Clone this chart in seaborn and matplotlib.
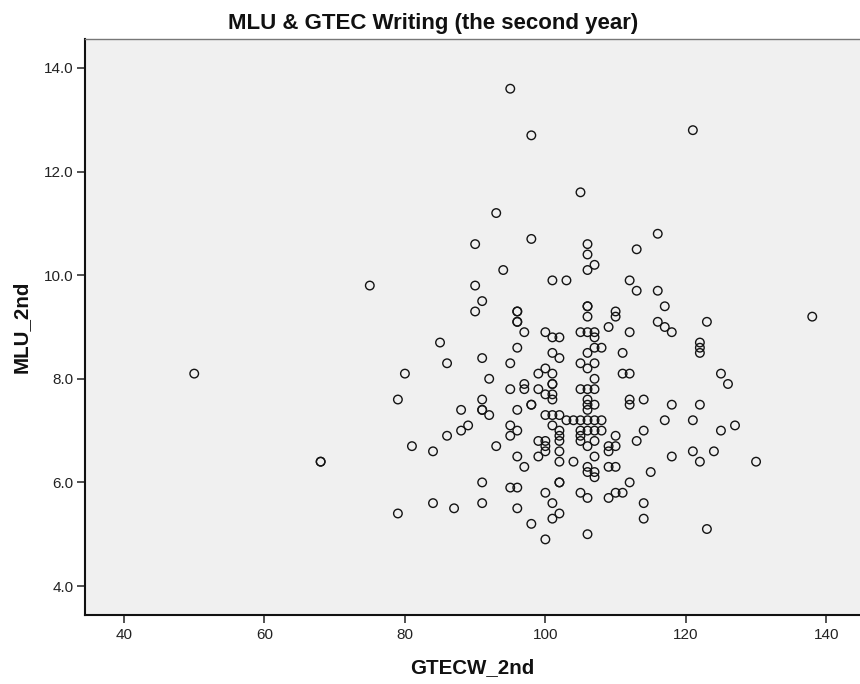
import numpy as np
import pandas as pd
import seaborn as sns
import matplotlib
matplotlib.use("Agg")
import matplotlib.pyplot as plt
from matplotlib.ticker import FormatStrFormatter

# --- data ---
gtecw_2nd = [
    50,
    68, 68,
    75,
    79, 79,
    80,
    81,
    84, 84,
    85,
    86, 86,
    87,
    88, 88,
    89,
    90, 90, 90,
    91, 91, 91, 91, 91, 91, 91,
    92, 92,
    93, 93,
    94,
    95, 95, 95, 95, 95, 95,
    96, 96, 96, 96, 96, 96, 96, 96, 96, 96,
    97, 97, 97, 97,
    98, 98, 98, 98, 98,
    99, 99, 99, 99,
    100, 100, 100, 100, 100, 100, 100, 100, 100,
    101, 101, 101, 101, 101, 101, 101, 101, 101, 101, 101, 101,
    102, 102, 102, 102, 102, 102, 102, 102, 102, 102, 102,
    103, 103,
    104, 104,
    105, 105, 105, 105, 105, 105, 105, 105, 105,
    106, 106, 106, 106, 106, 106, 106, 106, 106, 106,
    106, 106, 106, 106, 106, 106, 106, 106, 106, 106,
    107, 107, 107, 107, 107, 107, 107, 107, 107, 107, 107, 107, 107, 107,
    108, 108, 108,
    109, 109, 109, 109, 109,
    110, 110, 110, 110, 110, 110,
    111, 111, 111,
    112, 112, 112, 112, 112, 112,
    113, 113, 113,
    114, 114, 114, 114,
    115,
    116, 116, 116,
    117, 117, 117,
    118, 118, 118,
    121, 121, 121,
    122, 122, 122, 122, 122,
    123, 123,
    124,
    125, 125,
    126,
    127,
    130,
    138,
]
mlu_2nd = [
    8.1,
    6.4, 6.4,
    9.8,
    7.6, 5.4,
    8.1,
    6.7,
    6.6, 5.6,
    8.7,
    8.3, 6.9,
    5.5,
    7.4, 7.0,
    7.1,
    10.6, 9.8, 9.3,
    9.5, 8.4, 7.6, 7.4, 7.4, 6.0, 5.6,
    8.0, 7.3,
    11.2, 6.7,
    10.1,
    13.6, 8.3, 7.8, 7.1, 6.9, 5.9,
    9.3, 9.3, 9.1, 9.1, 8.6, 7.4, 7.0, 6.5, 5.9, 5.5,
    8.9, 7.9, 7.8, 6.3,
    12.7, 10.7, 7.5, 7.5, 5.2,
    8.1, 7.8, 6.8, 6.5,
    8.9, 8.2, 7.7, 7.3, 6.8, 6.7, 6.6, 5.8, 4.9,
    9.9, 8.8, 8.5, 8.1, 7.9, 7.9, 7.7, 7.6, 7.3, 7.1, 5.6, 5.3,
    8.8, 8.4, 7.3, 7.0, 6.9, 6.8, 6.6, 6.4, 6.0, 6.0, 5.4,
    9.9, 7.2,
    7.2, 6.4,
    11.6, 8.9, 8.3, 7.8, 7.2, 7.0, 6.9, 6.8, 5.8,
    10.6, 10.4, 10.1, 9.4, 9.4, 9.2, 8.9, 8.5, 8.2, 7.8,
    7.6, 7.5, 7.4, 7.2, 7.0, 6.7, 6.3, 6.2, 5.7, 5.0,
    10.2, 8.9, 8.8, 8.6, 8.3, 8.0, 7.8, 7.5, 7.2, 7.0, 6.8, 6.5, 6.2, 6.1,
    8.6, 7.2, 7.0,
    9.0, 6.7, 6.6, 6.3, 5.7,
    9.3, 9.2, 6.9, 6.7, 6.3, 5.8,
    8.5, 8.1, 5.8,
    9.9, 8.9, 8.1, 7.6, 7.5, 6.0,
    10.5, 9.7, 6.8,
    7.6, 7.0, 5.6, 5.3,
    6.2,
    10.8, 9.7, 9.1,
    9.4, 9.0, 7.2,
    8.9, 7.5, 6.5,
    12.8, 7.2, 6.6,
    8.7, 8.6, 8.5, 7.5, 6.4,
    9.1, 5.1,
    6.6,
    8.1, 7.0,
    7.9,
    7.1,
    6.4,
    9.2,
]
x_ticks = [40, 60, 80, 100, 120, 140]
y_ticks = [4.0, 6.0, 8.0, 10.0, 12.0, 14.0]
title_text = "MLU & GTEC Writing (the second year)"
x_label = "GTECW_2nd"
y_label = "MLU_2nd"

assert len(gtecw_2nd) == len(mlu_2nd)
df = pd.DataFrame({x_label: gtecw_2nd, y_label: mlu_2nd})

sns.set_theme(style="white")
plt.rcParams["font.family"] = ["Liberation Sans", "DejaVu Sans"]

fig = plt.figure(figsize=(8.6, 6.84), dpi=100)
ax = fig.add_axes([85.3 / 860, 1 - 614.7 / 684, (860 - 85.3) / 860, (614.7 - 39.3) / 684])
ax.set_facecolor("#f0f0f0")

sns.scatterplot(data=df, x=x_label, y=y_label, ax=ax, marker="o", s=38,
                facecolors="none", edgecolor="#141414", linewidth=1.0)

ax.set_xlim(34.49, 144.8)
ax.set_ylim(3.446, 14.554)
ax.set_xticks(x_ticks)
ax.set_yticks(y_ticks)
ax.yaxis.set_major_formatter(FormatStrFormatter("%.1f"))
ax.tick_params(axis="both", which="major", direction="out", length=6, width=1.1,
               colors="#222222", labelsize=11, left=True, bottom=True)
ax.tick_params(axis="x", pad=3.5)
ax.tick_params(axis="y", pad=2.4)

for side in ["left", "bottom"]:
    ax.spines[side].set_visible(True)
    ax.spines[side].set_color("#111111")
    ax.spines[side].set_linewidth(1.5)
ax.spines["top"].set_visible(True)
ax.spines["top"].set_color("#777777")
ax.spines["top"].set_linewidth(1.0)
ax.spines["right"].set_visible(False)

ax.set_xlabel(x_label, fontsize=14.8, fontweight="bold", color="#111111")
ax.set_ylabel(y_label, fontsize=14.8, fontweight="bold", color="#111111")
ax.xaxis.label.set_va("baseline")
ax.xaxis.set_label_coords(0.5, -(673 - 614.7) / 575.4)
ax.yaxis.label.set_va("center")
ax.yaxis.set_label_coords((21.5 - 85.3) / 774.7, 0.5)

fig.text(0.5035, 1 - 29 / 684, title_text, ha="center", va="baseline",
         fontsize=16, fontweight="bold", color="#111111")

fig.savefig("out.png", dpi=100)
